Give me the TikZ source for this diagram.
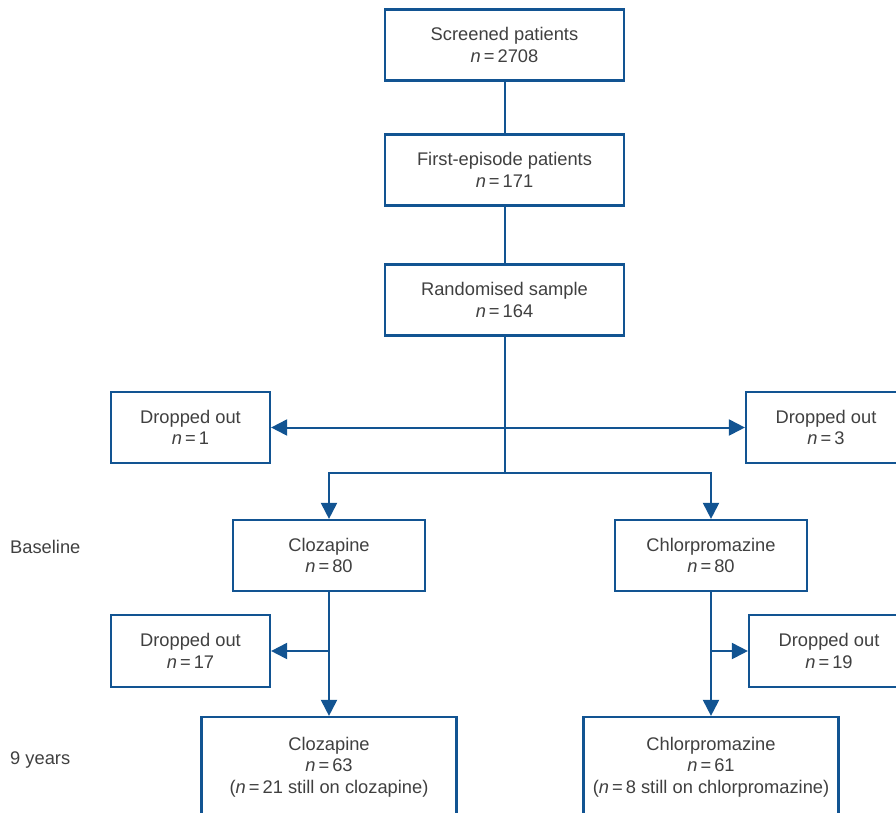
\documentclass[tikz,border=0pt]{standalone}
\usepackage{fontspec}
\setmainfont{Liberation Sans}
\usepackage{tikz}
\usetikzlibrary{arrows.meta}
\usetikzlibrary{calc}

\definecolor{flowblue}{RGB}{18,84,146}
\definecolor{flowtext}{RGB}{64,64,64}
\newcommand{\nval}[1]{\textit{n}\,=\,#1}

\tikzset{
  box/.style={draw=flowblue, line width=2.2pt, fill=white, align=center,
    text=flowtext, font=\fontsize{18.3}{21.5}\selectfont,
    minimum width=#1, minimum height=71pt, inner sep=0pt},
  box/.default=239pt,
  link/.style={draw=flowblue, line width=2pt},
  arr/.style={link, -{Triangle[length=16pt,width=16pt]}},
  side/.style={text=flowtext, font=\fontsize{18.3}{21.5}\selectfont, anchor=west, inner sep=0pt}
}

\begin{document}
\begin{tikzpicture}[x=1pt,y=-1pt]
\useasboundingbox (0,0) rectangle (896,812);
\node[box] (screened) at (504.5,45) {Screened patients\\\nval{2708}};
\node[box] (first) at (504.5,170) {First-episode patients\\\nval{171}};
\node[box] (random) at (504.5,300) {Randomised sample\\\nval{164}};
\node[box=159pt] (dropl) at (190.5,427.5) {Dropped out\\\nval{1}};
\node[box=160pt] (dropr) at (826,427.5) {Dropped out\\\nval{3}};
\node[box=192pt] (cloz) at (329,555.5) {Clozapine\\\nval{80}};
\node[box=192pt] (chlor) at (711,555.5) {Chlorpromazine\\\nval{80}};
\node[box=159pt, minimum height=72pt] (dropcl) at (190.5,651) {Dropped out\\\nval{17}};
\node[box=160pt, minimum height=72pt] (dropch) at (829,651) {Dropped out\\\nval{19}};
\node[box=255pt, minimum height=100pt] (clozend) at (329,767) {Clozapine\\\nval{63}\\(\nval{21} still on clozapine)};
\node[box=255pt, minimum height=100pt] (chlorend) at (711,767) {Chlorpromazine\\\nval{61}\\(\nval{8} still on chlorpromazine)};
\node[side] (base) at (10,547) {Baseline};
\node[side] (nine) at (10,760) {9 years};
\coordinate (split) at (random.south |- dropl.east);
\coordinate (fork) at (504.5,473);
\draw[link] (screened) -- (first);
\draw[link] (first) -- (random);
\draw[link] (random) -- (fork);
\draw[arr] (split) -- (dropl);
\draw[arr] (split) -- (dropr);
\draw[arr] (fork) -| (cloz);
\draw[arr] (fork) -| (chlor);
\draw[arr] (cloz) -- (clozend);
\draw[arr] (chlor) -- (chlorend);
\draw[arr] (cloz.south |- dropcl.east) -- (dropcl);
\draw[arr] (chlor.south |- dropch.west) -- (dropch);
\end{tikzpicture}
\end{document}
